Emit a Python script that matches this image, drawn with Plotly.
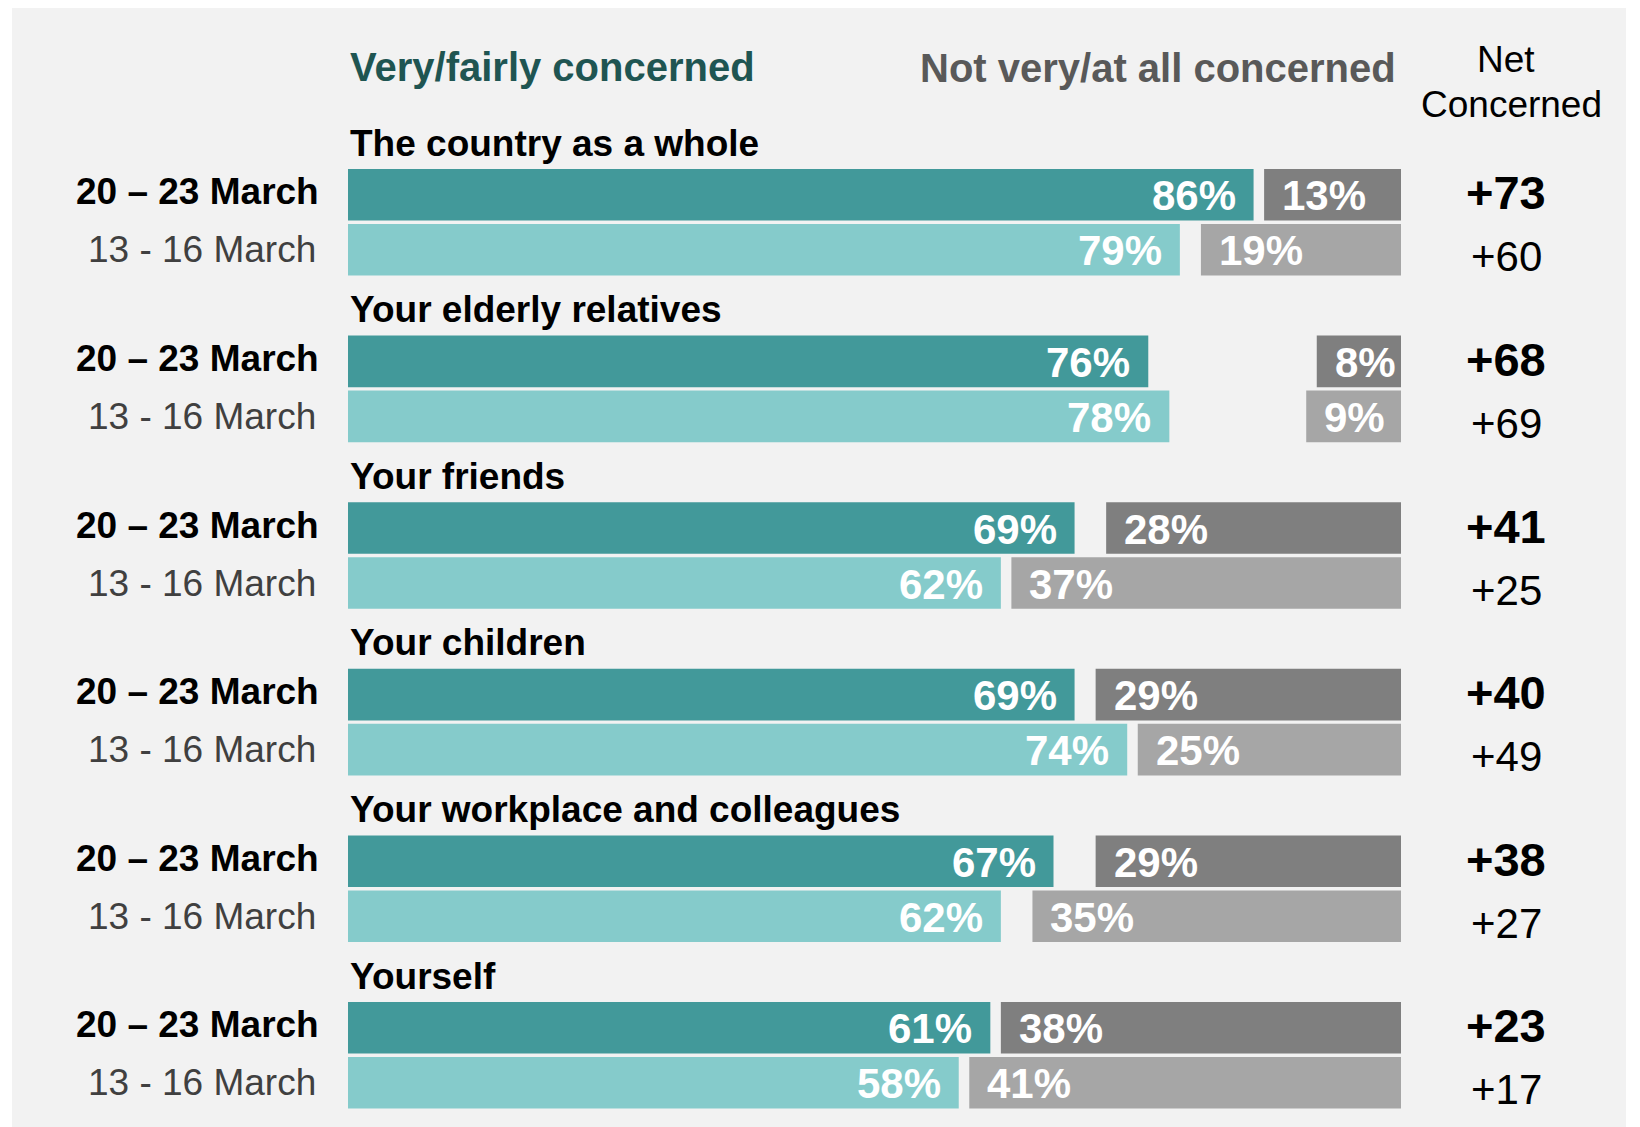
import plotly.graph_objects as go

# ---------------- data ----------------
categories = ["The country as a whole", "Your elderly relatives", "Your friends",
              "Your children", "Your workplace and colleagues", "Yourself"]
period_now = "20 – 23 March"
period_prev = "13 - 16 March"
concerned_now = [86, 76, 69, 69, 67, 61]
not_concerned_now = [13, 8, 28, 29, 29, 38]
concerned_prev = [79, 78, 62, 74, 62, 58]
not_concerned_prev = [19, 9, 37, 25, 35, 41]
net_now = [73, 68, 41, 40, 38, 23]
net_prev = [60, 69, 25, 49, 27, 17]

# ---------------- layout constants ----------------
OFF = 8                      # page body margin in the browser
W, H = 1640 - OFF, 1127 - OFF
X0, X1 = 348 - OFF, 1401 - OFF   # pixel extent of 0..100 scale
FIRST_TOP = 169 - OFF        # top of first bar
PITCH = 166.6                # group pitch
BAR_H = 51.6
ROW_GAP = 3.4

FONT = "Liberation Sans, Arial, sans-serif"
C_NOW = "#42999a"
C_PREV = "#85cbcb"
G_NOW = "#7f7f7f"
G_PREV = "#a6a6a6"

n = len(categories)
y_now = [FIRST_TOP + BAR_H / 2 + PITCH * k for k in range(n)]
y_prev = [y + BAR_H + ROW_GAP for y in y_now]

fig = go.Figure()
fig.add_trace(go.Bar(y=y_now, x=concerned_now, base=0, orientation="h", width=BAR_H,
                     marker=dict(color=C_NOW, line=dict(width=0)), hoverinfo="skip"))
fig.add_trace(go.Bar(y=y_prev, x=concerned_prev, base=0, orientation="h", width=BAR_H,
                     marker=dict(color=C_PREV, line=dict(width=0)), hoverinfo="skip"))
fig.add_trace(go.Bar(y=y_now, x=not_concerned_now, base=[100 - v for v in not_concerned_now],
                     orientation="h", width=BAR_H,
                     marker=dict(color=G_NOW, line=dict(width=0)), hoverinfo="skip"))
fig.add_trace(go.Bar(y=y_prev, x=not_concerned_prev, base=[100 - v for v in not_concerned_prev],
                     orientation="h", width=BAR_H,
                     marker=dict(color=G_PREV, line=dict(width=0)), hoverinfo="skip"))

ann = []
PAD = 16 * 100 / (X1 - X0)  # data units


def px(x):
    return (x - OFF) / W


for k in range(n):
    # category label
    ann.append(dict(x=0, y=y_now[k] - BAR_H / 2 - 26, xref="x", yref="y", text=categories[k],
                    xanchor="left", yanchor="middle", showarrow=False,
                    font=dict(family=FONT, size=37, color="#000000", weight="bold")))
    # date labels
    ann.append(dict(x=px(321), y=y_now[k] - 3, xref="paper", yref="y", text=period_now,
                    xanchor="right", yanchor="middle", showarrow=False,
                    font=dict(family=FONT, size=37, color="#000000", weight="bold")))
    ann.append(dict(x=px(318), y=y_prev[k], xref="paper", yref="y", text=period_prev,
                    xanchor="right", yanchor="middle", showarrow=False,
                    font=dict(family=FONT, size=37, color="#404040")))
    # percentage labels
    for yv, cv, nv in ((y_now[k], concerned_now[k], not_concerned_now[k]),
                       (y_prev[k], concerned_prev[k], not_concerned_prev[k])):
        ann.append(dict(x=cv - PAD, y=yv + 1, xref="x", yref="y", text=f"{cv}%",
                        xanchor="right", yanchor="middle", showarrow=False,
                        font=dict(family=FONT, size=42, color="#ffffff", weight="bold")))
        ann.append(dict(x=100 - nv + PAD, y=yv + 1, xref="x", yref="y", text=f"{nv}%",
                        xanchor="left", yanchor="middle", showarrow=False,
                        font=dict(family=FONT, size=42, color="#ffffff", weight="bold")))
    # net labels
    ann.append(dict(x=px(1506), y=y_now[k] - 2, xref="paper", yref="y", text=f"+{net_now[k]}",
                    xanchor="center", yanchor="middle", showarrow=False,
                    font=dict(family=FONT, size=47, color="#000000", weight="bold")))
    ann.append(dict(x=px(1506), y=y_prev[k] + 7, xref="paper", yref="y", text=f"+{net_prev[k]}",
                    xanchor="center", yanchor="middle", showarrow=False,
                    font=dict(family=FONT, size=42, color="#000000")))

# headers
ann.append(dict(x=0, y=67 - OFF, xref="x", yref="y", text="Very/fairly concerned",
                xanchor="left", yanchor="middle", showarrow=False,
                font=dict(family=FONT, size=40, color="#1f5552", weight="bold")))
ann.append(dict(x=px(1398), y=68 - OFF, xref="paper", yref="y", text="Not very/at all concerned",
                xanchor="right", yanchor="middle", showarrow=False,
                font=dict(family=FONT, size=40, color="#595959", weight="bold")))
ann.append(dict(x=px(1506), y=59 - OFF, xref="paper", yref="y", text="Net",
                xanchor="center", yanchor="middle", showarrow=False,
                font=dict(family=FONT, size=37, color="#000000")))
ann.append(dict(x=px(1511), y=104 - OFF, xref="paper", yref="y", text="Concerned",
                xanchor="center", yanchor="middle", showarrow=False,
                font=dict(family=FONT, size=37, color="#000000")))

fig.update_layout(
    width=W, height=H,
    margin=dict(l=0, r=0, t=0, b=0, pad=0),
    paper_bgcolor="#ffffff",
    plot_bgcolor="rgba(0,0,0,0)",
    barmode="overlay",
    showlegend=False,
    hovermode=False,
    xaxis=dict(domain=[X0 / W, X1 / W], range=[0, 100], visible=False, fixedrange=True),
    yaxis=dict(domain=[0, 1], range=[H, 0], visible=False, fixedrange=True),
    annotations=ann,
    shapes=[dict(type="rect", xref="paper", yref="paper", x0=px(12), x1=px(1626),
                 y0=0, y1=1, fillcolor="#f2f2f2", line=dict(width=0), layer="below")],
)

fig.write_html("out.html", config={"displayModeBar": False})
